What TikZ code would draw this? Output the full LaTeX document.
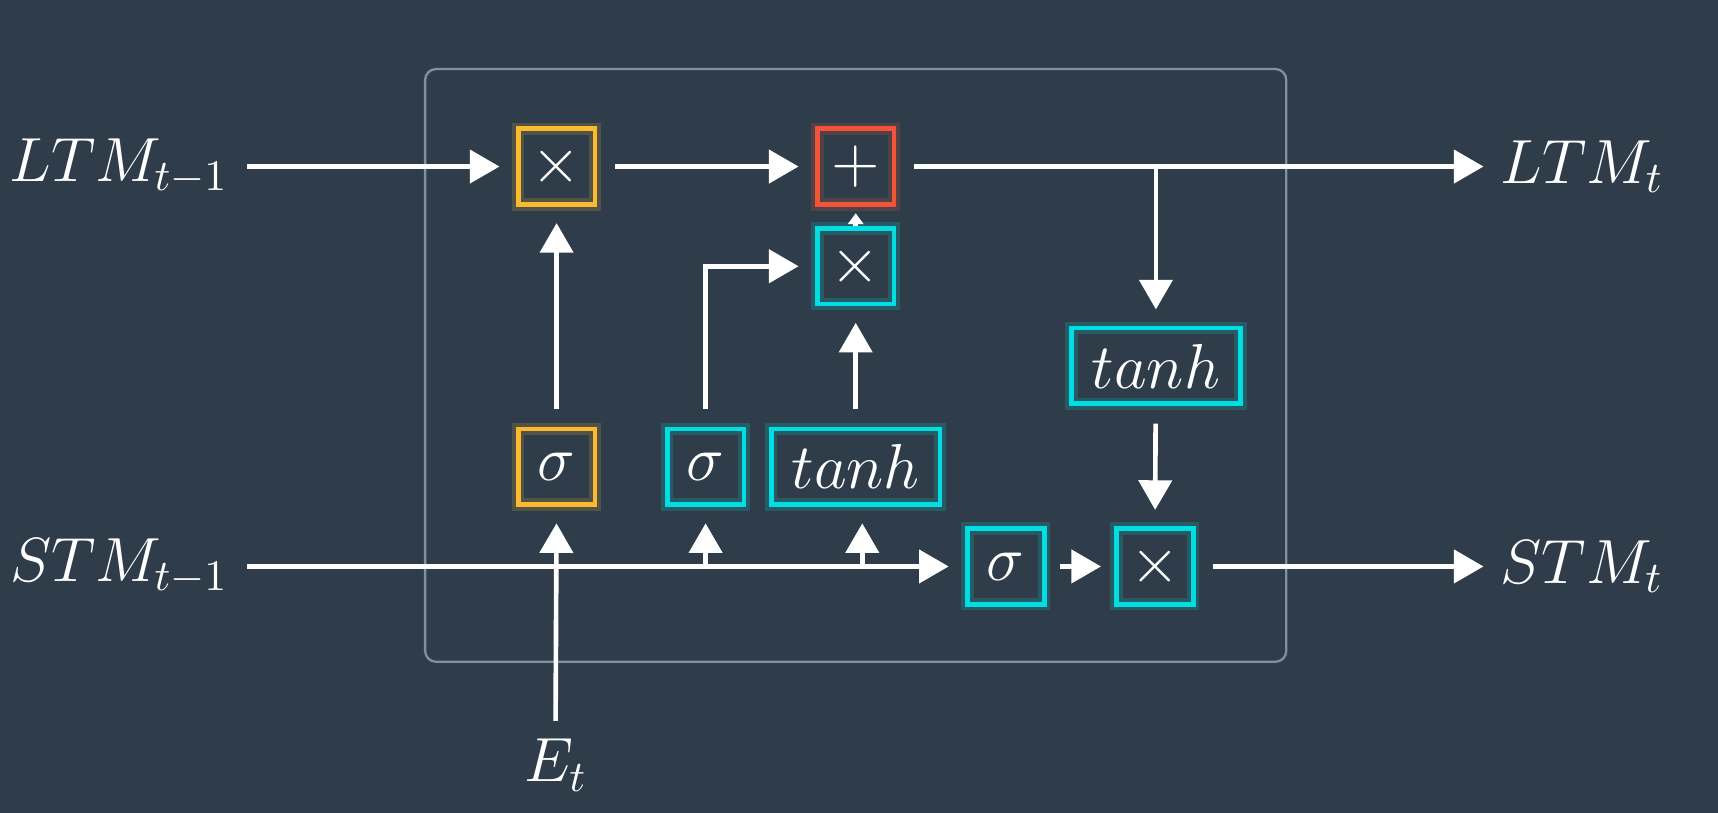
\RequirePackage{fix-cm}
\documentclass[tikz,border=0pt]{standalone}
\usetikzlibrary{arrows.meta,positioning}
\definecolor{bg}{RGB}{47,61,74}
\definecolor{cellframe}{RGB}{125,145,162}
\definecolor{gateY}{RGB}{251,186,48}
\definecolor{gateR}{RGB}{243,84,55}
\definecolor{gateC}{RGB}{0,222,228}
\tikzset{
  arr/.style={white, line width=1.2pt, -{Triangle[length=0.27cm,width=0.3cm]}, shorten >=0.15cm, shorten <=0.16cm},
  gate/.style={draw=#1, line width=1.2pt, minimum width=0.7cm, minimum height=0.69cm, inner sep=0pt, text=white,
    font=\fontsize{16.5}{19}\selectfont, preaction={draw=#1, draw opacity=0.18, line width=3.2pt}},
  widegate/.style={minimum width=1.54cm},
  lbl/.style={text=white, font=\fontsize{16.2}{19}\selectfont, inner sep=0pt}
}
\begin{document}
\begin{tikzpicture}[x=0.01cm, y=-0.01cm]
\fill[bg] (0,0) rectangle (1568,742);
\draw[cellframe, line width=0.6pt, rounded corners=0.1cm] (388,63) rectangle (1174,604);

\node[lbl, anchor=east] (ltmin) at (209,152) {$LTM_{t-1}$};
\node[lbl, anchor=east] (stmin) at (209,517) {$STM_{t-1}$};
\node[lbl, anchor=west] (ltmout) at (1369,152) {$LTM_t$};
\node[lbl, anchor=west] (stmout) at (1369,517) {$STM_t$};
\node[lbl, anchor=north] (et) at (507,674) {$E_t$};

\node[gate=gateY] (forget) at (508,152) {$\times$};
\node[gate=gateR] (add) at (781,152) {$+$};
\node[gate=gateC] (keep) at (781,243) {$\times$};
\node[gate=gateY] (fsig) at (508,426) {$\sigma$};
\node[gate=gateC] (isig) at (644,426) {$\sigma$};
\node[gate=gateC, widegate] (itanh) at (781,426) {$tanh$};
\node[gate=gateC, widegate] (otanh) at (1055,334) {$tanh$};
\node[gate=gateC] (osig) at (918,517) {$\sigma$};
\node[gate=gateC] (outmul) at (1054,517) {$\times$};

\draw[arr] (ltmin.east |- forget.west) -- (forget.west);
\draw[arr] (forget) -- (add);
\draw[arr] (add.east) -- (ltmout.west |- add.east);
\draw[arr, shorten <=0pt] (otanh.north |- add.east) -- (otanh.north);
\draw[arr] (otanh) -- (outmul);
\draw[arr] (fsig) -- (forget);
\draw[arr] (isig.north) |- (keep.west);
\draw[arr] (itanh.north -| keep.south) -- (keep.south);
\draw[white, line width=1.2pt, -{Triangle[length=0.1cm,width=0.14cm]}, shorten >=0.06cm] (keep.north) -- (add.south);

\draw[arr] (stmin.east) -- (osig.west);
\draw[arr, shorten <=0pt] (isig.south |- stmin.east) -- (isig.south);
\draw[arr, shorten <=0pt] ([xshift=0.06cm]itanh.south |- stmin.east) -- ([xshift=0.06cm]itanh.south);
\draw[arr] (et.north) -- (fsig.south);
\draw[arr, shorten <=0.12cm, shorten >=0.12cm] (osig) -- (outmul);
\draw[arr] (outmul.east) -- (stmout.west |- outmul.east);
\end{tikzpicture}
\end{document}
